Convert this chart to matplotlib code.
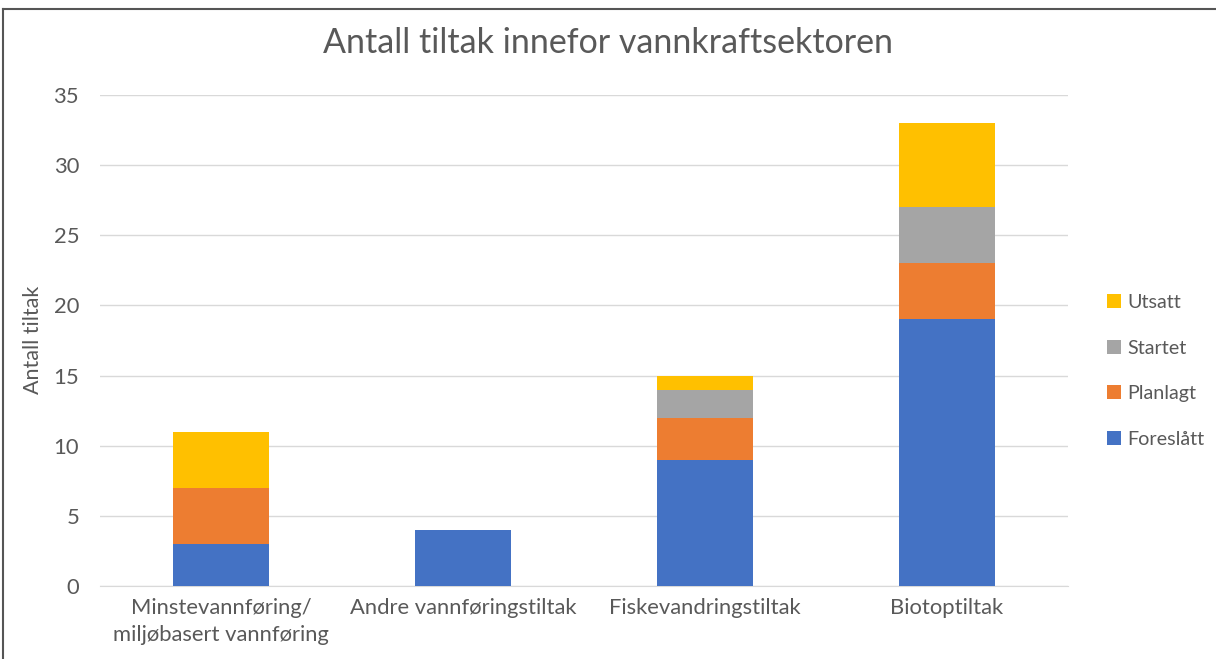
import matplotlib
matplotlib.use("Agg")
import matplotlib.pyplot as plt
import numpy as np
from matplotlib.lines import Line2D

categories = ["Minstevannføring/\nmiljøbasert vannføring", "Andre vannføringstiltak",
              "Fiskevandringstiltak", "Biotoptiltak"]
series_names = ["Foreslått", "Planlagt", "Startet", "Utsatt"]
foreslatt = [3, 4, 9, 19]
planlagt = [4, 0, 3, 4]
startet = [0, 0, 2, 4]
utsatt = [4, 0, 1, 6]
colors = ["#4472C4", "#ED7D31", "#A5A5A5", "#FFC000"]
yticks = [0, 5, 10, 15, 20, 25, 30, 35]

plt.rcParams['font.family'] = ['Lato', 'DejaVu Sans']
txt = "#595959"

fig = plt.figure(figsize=(12.16, 6.59), dpi=100)
ax = fig.add_axes([100/1216, 1-586/659, 968/1216, 491/659])

x = np.arange(len(categories))
bottom = np.zeros(len(categories))
handles = []
for name, vals, c in zip(series_names, [foreslatt, planlagt, startet, utsatt], colors):
    h = ax.bar(x, vals, 0.4, bottom=bottom, color=c, label=name, zorder=3)
    handles.append(h)
    bottom += np.array(vals)

ax.set_xlim(-0.5, 3.5)
ax.set_ylim(0, 35)
ax.set_yticks(yticks)
ax.set_xticks(x)
ax.set_xticklabels(categories, fontsize=15.8, color=txt, linespacing=1.4)
ax.tick_params(axis='y', labelsize=15.8, colors=txt, length=0, pad=15)
ax.tick_params(axis='x', length=0, pad=9, colors=txt)
ax.grid(axis='y', color="#D9D9D9", linewidth=1, zorder=0)
for s in ['top', 'right', 'left']:
    ax.spines[s].set_visible(False)
ax.spines['bottom'].set_color("#D9D9D9")

fig.text(33/1216, 1-340/659, "Antall tiltak", rotation=90, ha='center', va='center',
         fontsize=15.5, color=txt)

fig.text(608/1216, 1-43/659, "Antall tiltak innefor vannkraftsektoren", ha='center', va='center',
         fontsize=24.5, color=txt)

leg = fig.legend(handles[::-1], series_names[::-1], loc='center left',
                 bbox_to_anchor=(1107/1216, 1-371/659), frameon=False,
                 borderpad=0, borderaxespad=0,
                 fontsize=14.2, labelspacing=1.45, handlelength=0.7, handleheight=0.7,
                 handletextpad=0.35, labelcolor=txt)

fig.add_artist(Line2D([3/1216, 3/1216], [0, 1-9/659], transform=fig.transFigure,
                      color="#555555", linewidth=1.5))
fig.add_artist(Line2D([3/1216, 1], [1-9/659, 1-9/659], transform=fig.transFigure,
                      color="#555555", linewidth=1.5))

fig.savefig("out.png", dpi=100)
